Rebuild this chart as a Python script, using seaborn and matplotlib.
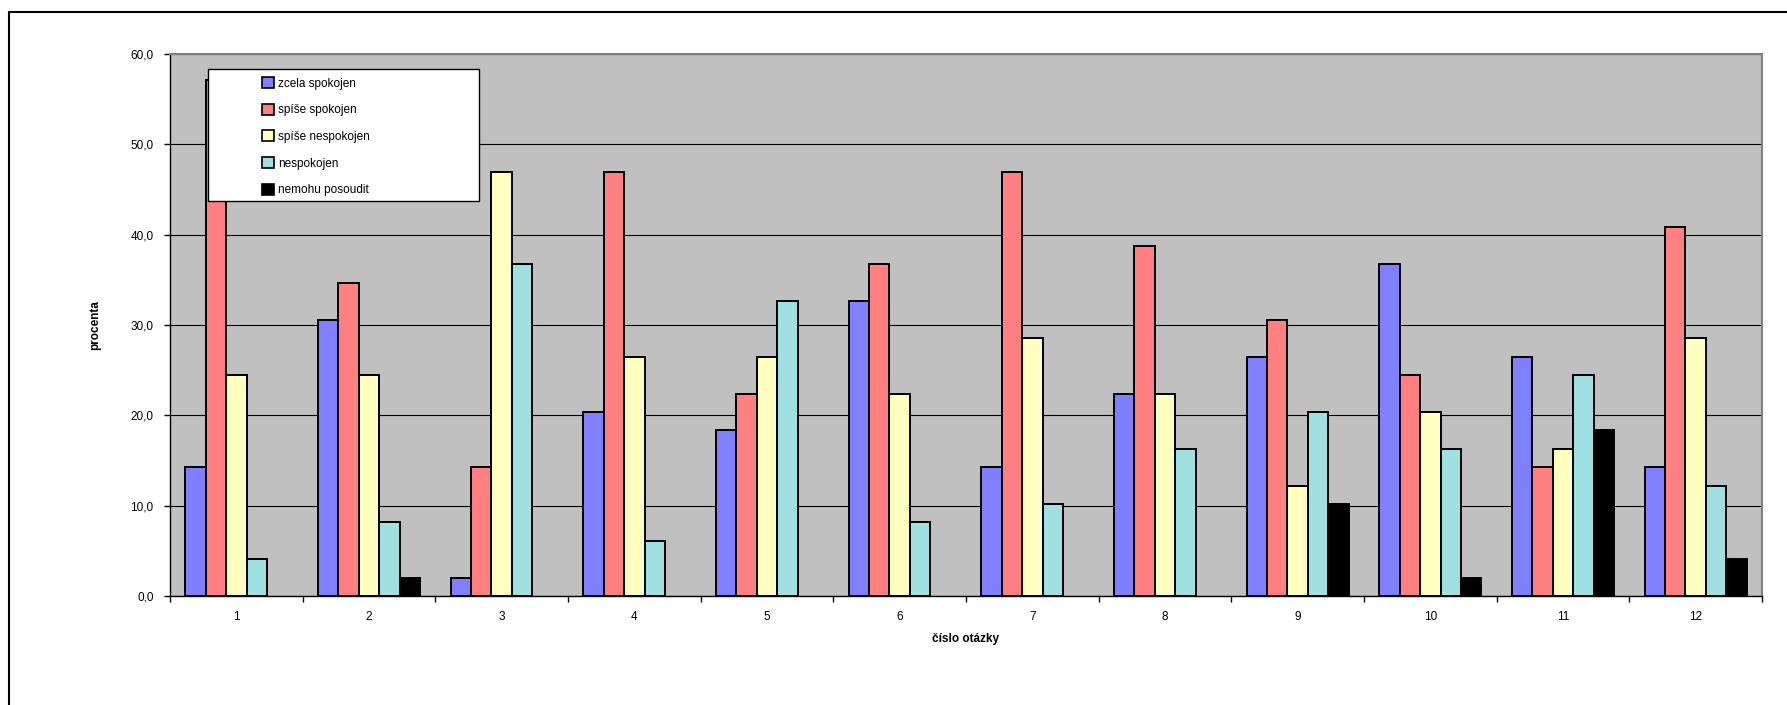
import numpy as np
import pandas as pd
import matplotlib
matplotlib.use('Agg')
import matplotlib.pyplot as plt
import seaborn as sns
from matplotlib.patches import Rectangle, Patch
from matplotlib.lines import Line2D

# data (percent of 49 respondents)
otazky = [str(i) for i in range(1, 13)]
kategorie = ['zcela spokojen', 'spíše spokojen', 'spíše nespokojen', 'nespokojen', 'nemohu posoudit']
zcela_spokojen = [14.3, 30.6, 2.0, 20.4, 18.4, 32.7, 14.3, 22.4, 26.5, 36.7, 26.5, 14.3]
spise_spokojen = [57.1, 34.7, 14.3, 46.9, 22.4, 36.7, 46.9, 38.8, 30.6, 24.5, 14.3, 40.8]
spise_nespokojen = [24.5, 24.5, 46.9, 26.5, 26.5, 22.4, 28.6, 22.4, 12.2, 20.4, 16.3, 28.6]
nespokojen = [4.1, 8.2, 36.7, 6.1, 32.7, 8.2, 10.2, 16.3, 20.4, 16.3, 24.5, 12.2]
nemohu_posoudit = [0.0, 2.0, 0.0, 0.0, 0.0, 0.0, 0.0, 0.0, 10.2, 2.0, 18.4, 4.1]
barvy = ['#8080FF', '#FF8080', '#FFFFC0', '#A0E0E0', '#000000']

serie = [zcela_spokojen, spise_spokojen, spise_nespokojen, nespokojen, nemohu_posoudit]
rows = []
for kat, hodnoty in zip(kategorie, serie):
    for o, v in zip(otazky, hodnoty):
        rows.append({'otazka': o, 'procenta': v, 'hodnoceni': kat})
df = pd.DataFrame(rows)

plt.rcParams['font.family'] = ['Liberation Sans', 'DejaVu Sans']
fs = 8.5

W, H = 1787, 705
fig = plt.figure(figsize=(W / 100, H / 100), dpi=100)
ax = fig.add_axes([170 / W, 1 - 596 / H, (1762 - 170) / W, (596 - 54) / H])
ax.set_facecolor('#C0C0C0')

sns.barplot(data=df, x='otazka', y='procenta', hue='hodnoceni', order=otazky,
            hue_order=kategorie, palette=barvy, saturation=1, width=0.77, gap=0,
            edgecolor='black', linewidth=1.4, legend=False, ax=ax, zorder=3)
# zero-height bars are not drawn in the original
for p in ax.patches:
    if p.get_height() == 0:
        p.set_linewidth(0)

ax.set_xlim(-0.5, len(otazky) - 0.5)
ax.set_ylim(0, 60)
ax.set_yticks(np.arange(0, 61, 10))
ax.set_yticklabels([f'{v:.1f}'.replace('.', ',') for v in np.arange(0, 61, 10)])
ax.set_xticks(np.arange(-0.5, len(otazky), 1), minor=True)
ax.tick_params(axis='x', which='major', length=0, pad=11, labelsize=fs)
ax.tick_params(axis='x', which='minor', length=4, width=1, direction='out')
ax.tick_params(axis='y', length=4.3, width=1, direction='out', pad=7.5, labelsize=fs)

ax.yaxis.grid(True, color='black', linewidth=0.8)
ax.set_axisbelow(True)
for s in ['left', 'bottom']:
    ax.spines[s].set_color('black')
    ax.spines[s].set_linewidth(1)
for s in ['top', 'right']:
    ax.spines[s].set_color('#808080')
    ax.spines[s].set_linewidth(1.5)

ax.set_xlabel('číslo otázky', fontweight='bold', fontsize=fs)
ax.xaxis.set_label_coords(0.5, -0.068)
ax.set_ylabel('procenta', fontweight='bold', fontsize=fs, va='center')
ax.yaxis.set_label_coords((95 - 170) / 1592, 0.5)

# legend box
ax.add_patch(Rectangle(((208 - 170) / 1592, (596 - 201) / 542), 271 / 1592, 132 / 542,
                       transform=ax.transAxes, facecolor='white', edgecolor='black',
                       linewidth=1, zorder=5))
handles = [Patch(facecolor=c, edgecolor='black', linewidth=1.2) for c in barvy]
leg = ax.legend(handles, kategorie, loc='upper left', frameon=False,
                bbox_to_anchor=((262 - 170) / 1592, (596 - 77) / 542), borderpad=0,
                borderaxespad=0, handlelength=1.05, handleheight=1.05, handletextpad=0.3,
                labelspacing=1.2, fontsize=fs)
leg.set_zorder(6)

# outer chart frame (top and left edges)
fig.add_artist(Line2D([8.5 / W, 8.5 / W, 1.0], [0.0, 1 - 11.5 / H, 1 - 11.5 / H],
                      transform=fig.transFigure, color='black', linewidth=1.5))

fig.savefig('out.png', dpi=100)
